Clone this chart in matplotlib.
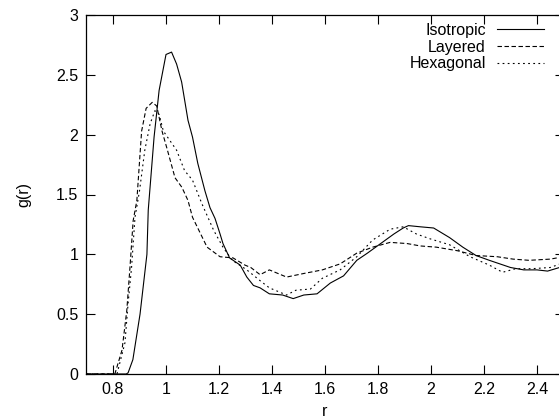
import matplotlib
matplotlib.use("Agg")
import matplotlib.pyplot as plt

# Isotropic (solid)
iso_r = [0.70, 0.85, 0.857, 0.875, 0.902, 0.928, 0.933, 0.955, 0.974, 1.00, 1.021, 1.04, 1.059, 1.083,
         1.10, 1.12, 1.147, 1.166, 1.185, 1.204, 1.215, 1.24, 1.28, 1.305, 1.33, 1.355, 1.39, 1.44,
         1.48, 1.52, 1.57, 1.62, 1.67, 1.72, 1.76, 1.81, 1.86, 1.895, 1.915, 1.96, 2.01, 2.07, 2.12,
         2.17, 2.22, 2.30, 2.35, 2.40, 2.44, 2.50]
iso_g = [0.0, 0.0, 0.01, 0.12, 0.5, 1.0, 1.37, 1.98, 2.37, 2.67, 2.69, 2.59, 2.44, 2.12,
         1.98, 1.76, 1.53, 1.39, 1.30, 1.17, 1.09, 0.97, 0.91, 0.81, 0.74, 0.72, 0.67, 0.66,
         0.63, 0.66, 0.67, 0.76, 0.82, 0.95, 1.01, 1.09, 1.17, 1.22, 1.24, 1.23, 1.22, 1.14, 1.06,
         0.99, 0.95, 0.89, 0.87, 0.87, 0.86, 0.90]

# Layered (dashed)
lay_r = [0.70, 0.807, 0.834, 0.852, 0.864, 0.876, 0.89, 0.908, 0.925, 0.948, 0.965, 0.985, 1.003,
         1.034, 1.06, 1.083, 1.10, 1.155, 1.204, 1.253, 1.298, 1.32, 1.355, 1.39, 1.455, 1.52,
         1.59, 1.657, 1.72, 1.78, 1.846, 1.91, 1.96, 2.02, 2.10, 2.17, 2.25, 2.31, 2.37, 2.45, 2.50]
lay_g = [0.0, 0.0, 0.2, 0.53, 0.89, 1.28, 1.45, 2.03, 2.22, 2.27, 2.24, 2.03, 1.89,
         1.64, 1.56, 1.45, 1.31, 1.06, 0.98, 0.97, 0.91, 0.89, 0.83, 0.87, 0.81, 0.84,
         0.87, 0.92, 1.01, 1.06, 1.10, 1.09, 1.07, 1.06, 1.03, 0.99, 0.98, 0.96, 0.95, 0.96, 0.98]

# Hexagonal (dotted)
hex_r = [0.70, 0.815, 0.845, 0.857, 0.87, 0.883, 0.90, 0.92, 0.94, 0.958, 0.974, 0.99, 1.015,
         1.04, 1.07, 1.10, 1.136, 1.18, 1.215, 1.25, 1.305, 1.355, 1.39, 1.455, 1.49, 1.545,
         1.59, 1.657, 1.72, 1.78, 1.846, 1.895, 1.945, 1.996, 2.07, 2.147, 2.22, 2.27, 2.32,
         2.38, 2.45, 2.50]
hex_g = [0.0, 0.0, 0.26, 0.59, 0.89, 1.31, 1.53, 1.87, 2.09, 2.20, 2.17, 2.03, 1.95,
         1.87, 1.70, 1.62, 1.42, 1.20, 1.06, 0.95, 0.87, 0.78, 0.72, 0.66, 0.70, 0.71,
         0.80, 0.87, 0.98, 1.12, 1.21, 1.23, 1.17, 1.13, 1.08, 0.98, 0.91, 0.85, 0.88,
         0.88, 0.89, 0.93]

labels = ["Isotropic", "Layered", "Hexagonal"]
x_ticks = [0.8, 1.0, 1.2, 1.4, 1.6, 1.8, 2.0, 2.2, 2.4]
x_ticklabels = ["0.8", "1", "1.2", "1.4", "1.6", "1.8", "2", "2.2", "2.4"]
y_ticks = [0, 0.5, 1, 1.5, 2, 2.5, 3]
y_ticklabels = ["0", "0.5", "1", "1.5", "2", "2.5", "3"]

plt.rcParams['font.family'] = ['Liberation Sans', 'DejaVu Sans']
FS = 11.5
W, H = 559, 420
fig = plt.figure(figsize=(W / 100, H / 100), dpi=100)
left, right, top, bottom = 86.5, 563.5, 15, 374
ax = fig.add_axes([left / W, 1 - bottom / H, (right - left) / W, (bottom - top) / H])

lw = 0.8
ax.plot(iso_r, iso_g, color='black', lw=lw, label=labels[0])
ax.plot(lay_r, lay_g, color='black', lw=lw, dashes=(4, 2.3), label=labels[1])
ax.plot(hex_r, hex_g, color='black', lw=lw, dashes=(1.6, 3.0), label=labels[2])

ax.set_xlim(0.7, 2.5)
ax.set_ylim(0, 3)
ax.set_xticks(x_ticks)
ax.set_xticklabels(x_ticklabels)
ax.set_yticks(y_ticks)
ax.set_yticklabels(y_ticklabels)
ax.tick_params(direction='in', length=6.5, width=0.8, top=True, right=True,
               labelsize=FS, pad=6)
for s in ax.spines.values():
    s.set_linewidth(0.9)

ax.set_xlabel('r', fontsize=FS, labelpad=5)
ax.set_ylabel('g(r)', fontsize=FS, labelpad=18)

leg = ax.legend(loc='upper right', bbox_to_anchor=(544 / W, 1 - 23 / H),
                bbox_transform=fig.transFigure, frameon=False, markerfirst=False,
                handlelength=2.95, handletextpad=0.7, labelspacing=0.1,
                fontsize=FS, borderaxespad=0, borderpad=0)
for t in leg.get_texts():
    t.set_ha('right')

fig.savefig('out.png', dpi=100)
